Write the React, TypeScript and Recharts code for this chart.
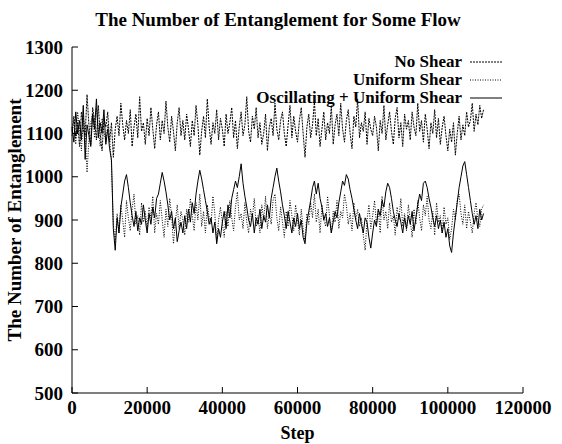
import React from 'react';
import { LineChart, Line, XAxis, YAxis, Legend } from 'recharts';

// sample steps every 500, 0 .. 109500
const steps: number[] = Array.from({ length: 220 }, (_, i) => i * 500);

const noShear = [
  1105, 1140, 1090, 1125, 1070, 1150, 1110, 1095, 1190, 1120, 1075, 1160, 1130, 1085, 1165, 1100, 1060, 1135, 1115, 1150,
  1080, 1125, 1045, 1110, 1140, 1095, 1170, 1120, 1085, 1130, 1100, 1155, 1070, 1115, 1145, 1090, 1185, 1105, 1125, 1075,
  1135, 1095, 1160, 1110, 1065, 1120, 1150, 1085, 1130, 1100, 1175, 1115, 1080, 1140, 1105, 1060, 1125, 1160, 1095, 1130,
  1085, 1145, 1110, 1070, 1130, 1095, 1165, 1120, 1050, 1105, 1140, 1090, 1180, 1115, 1075, 1125, 1100, 1155, 1085, 1135,
  1110, 1070, 1145, 1100, 1125, 1160, 1090, 1130, 1065, 1115, 1150, 1095, 1120, 1185, 1105, 1080, 1140, 1110, 1160, 1090,
  1125, 1075, 1100, 1145, 1060, 1115, 1135, 1095, 1170, 1110, 1085, 1130, 1150, 1100, 1070, 1120, 1165, 1090, 1140, 1105,
  1080, 1130, 1160, 1100, 1045, 1115, 1145, 1090, 1120, 1175, 1095, 1135, 1070, 1110, 1150, 1085, 1125, 1100, 1165, 1075,
  1120, 1145, 1095, 1170, 1110, 1080, 1130, 1155, 1100, 1065, 1140, 1115, 1180, 1090, 1125, 1105, 1150, 1075, 1135, 1110,
  1095, 1140, 1115, 1060, 1130, 1100, 1165, 1085, 1120, 1150, 1105, 1075, 1135, 1160, 1090, 1125, 1070, 1145, 1110, 1130,
  1085, 1150, 1115, 1095, 1170, 1105, 1130, 1080, 1145, 1110, 1065, 1125, 1100, 1155, 1090, 1135, 1075, 1115, 1140, 1095,
  1060, 1110, 1080, 1125, 1050, 1100, 1140, 1085, 1120, 1095, 1150, 1115, 1130, 1170, 1105, 1145, 1120, 1165, 1135, 1155,
];

const uniformShear = [
  1095, 1130, 1075, 1150, 1110, 1060, 1140, 1100, 1010, 1085, 1125, 1145, 1090, 1160, 1115, 1070, 1135, 1105, 1080, 1120,
  1090, 1030, 890, 850, 915, 870, 935, 900, 860, 945, 905, 875, 925, 960, 890, 910, 865, 940, 895, 920,
  880, 930, 905, 955, 870, 915, 890, 945, 900, 860, 925, 885, 950, 910, 845, 895, 935, 880, 920, 900,
  865, 925, 895, 950, 910, 875, 940, 900, 960, 885, 920, 870, 935, 905, 890, 955, 915, 850, 900, 930,
  895, 860, 920, 885, 945, 905, 875, 930, 965, 900, 915, 880, 940, 895, 870, 925, 905, 950, 885, 910,
  870, 935, 900, 955, 880, 915, 890, 945, 960, 905, 875, 930, 895, 860, 920, 885, 945, 910, 875, 935,
  900, 865, 925, 880, 850, 915, 890, 940, 905, 960, 895, 925, 870, 935, 900, 885, 955, 910, 870, 920,
  895, 945, 880, 920, 905, 960, 935, 890, 915, 875, 940, 900, 925, 885, 905, 865, 830, 900, 935, 880,
  910, 945, 890, 925, 870, 955, 900, 920, 880, 940, 895, 910, 865, 930, 900, 950, 885, 915, 875, 935,
  900, 860, 925, 890, 945, 905, 875, 935, 910, 955, 900, 880, 920, 865, 940, 895, 910, 870, 930, 890,
  905, 855, 880, 925, 900, 945, 960, 915, 890, 935, 880, 920, 895, 870, 915, 940, 900, 885, 925, 935,
];

const oscillating = [
  1115, 1080, 1150, 1100, 1130, 1085, 1165, 1040, 1120, 1095, 1070, 1145, 1110, 1180, 1090, 1125, 1100, 1155, 1075, 1110,
  1065, 1040, 880, 830, 905, 870, 930, 960, 990, 1005, 975, 940, 910, 885, 920, 875, 905, 890, 935, 900,
  870, 915, 890, 930, 905, 950, 960, 985, 1010, 990, 965, 935, 900, 920, 880, 905, 850, 875, 895, 870,
  910, 880, 925, 895, 940, 915, 960, 990, 1015, 995, 970, 945, 920, 890, 905, 870, 895, 845, 880, 860,
  895, 920, 880, 935, 905, 950, 970, 990, 975, 1000, 1030, 985, 955, 930, 900, 885, 915, 870, 905, 890,
  925, 880, 910, 895, 935, 905, 950, 975, 1000, 1020, 990, 965, 935, 910, 880, 920, 895, 870, 905, 885,
  915, 880, 900, 860, 845, 895, 920, 945, 975, 990, 960, 985, 950, 930, 900, 915, 885, 905, 870, 895,
  920, 905, 940, 965, 990, 980, 1005, 995, 970, 950, 925, 900, 880, 915, 890, 870, 905, 895, 860, 835,
  870, 900, 885, 925, 910, 945, 930, 965, 985, 975, 950, 920, 900, 885, 915, 895, 870, 905, 880, 910,
  890, 920, 875, 905, 935, 960, 945, 985, 990, 975, 950, 930, 905, 885, 910, 880, 900, 870, 895, 860,
  880, 840, 825, 870, 905, 940, 975, 1000, 1025, 1035, 1005, 975, 945, 915, 890, 910, 880, 925, 900, 915,
];

const xTicks = [0, 20000, 40000, 60000, 80000, 100000, 120000];
const yTicks = [500, 600, 700, 800, 900, 1000, 1100, 1200, 1300];

const data = steps.map((s, i) => ({
  step: s,
  none: noShear[i],
  uniform: uniformShear[i],
  osc: oscillating[i],
}));

const FONT = '"Liberation Serif", "DejaVu Serif", serif';
const tickStyle = { fontFamily: FONT, fontSize: 19, fontWeight: 700, fill: '#000' };

const legendRows = [
  { label: 'No Shear', dash: '2 1' },
  { label: 'Uniform Shear', dash: '1 1.5' },
  { label: 'Oscillating + Uniform Shear', dash: undefined },
];

const LegendBox = () => (
  <div style={{ width: 320, fontFamily: FONT, fontWeight: 700, fontSize: 17 }}>
    {legendRows.map((r) => (
      <div key={r.label} style={{ display: 'flex', justifyContent: 'flex-end', alignItems: 'center', height: 18, lineHeight: '18px' }}>
        <span style={{ color: '#000' }}>{r.label}</span>
        <svg width={38} height={18} style={{ marginLeft: 6 }}>
          <line x1={2} y1={9} x2={34} y2={9} stroke="#000" strokeWidth={1} strokeDasharray={r.dash} />
        </svg>
      </div>
    ))}
  </div>
);

export default function App() {
  return (
    <div style={{ position: 'absolute', left: 0, top: 0, width: 562, height: 444, background: '#fff' }}>
      <div
        style={{
          position: 'absolute', left: 0, top: 9, width: 556, textAlign: 'center',
          fontFamily: FONT, fontWeight: 700, fontSize: 19, color: '#000', lineHeight: '22px',
        }}
      >
        The Number of Entanglement for Some Flow
      </div>
      <LineChart width={562} height={444} data={data} margin={{ top: 47, right: 39, left: 0, bottom: 0 }}>
        <XAxis
          dataKey="step"
          type="number"
          domain={[0, 120000]}
          ticks={xTicks}
          height={51}
          tickSize={-6}
          tickMargin={14}
          tick={tickStyle}
          stroke="#000"
          label={{ value: 'Step', position: 'insideBottom', offset: 5, fill: '#000', style: { ...tickStyle, fontSize: 18 } }}
        />
        <XAxis
          xAxisId="top"
          orientation="top"
          dataKey="step"
          type="number"
          domain={[0, 120000]}
          ticks={xTicks}
          height={0}
          tickSize={-6}
          tickFormatter={() => ''}
          stroke="#000"
        />
        <YAxis
          type="number"
          domain={[500, 1300]}
          ticks={yTicks}
          width={72}
          tickSize={-6}
          tickMargin={15}
          tick={tickStyle}
          stroke="#000"
          label={{ value: 'The Number of Entanglement', angle: -90, position: 'insideLeft', offset: 14, fill: '#000', stroke: 'none', style: { ...tickStyle, textAnchor: 'middle' } }}
        />
        <YAxis
          yAxisId="right"
          orientation="right"
          type="number"
          domain={[500, 1300]}
          ticks={yTicks}
          width={0}
          tickSize={-6}
          tickFormatter={() => ''}
          stroke="#000"
        />
        <Legend
          layout="vertical"
          align="center"
          verticalAlign="middle"
          wrapperStyle={{ left: 186, top: 53, width: 320 }}
          content={() => <LegendBox />}
        />
        <Line dataKey="none" stroke="#000" strokeWidth={1} strokeDasharray="2 1" dot={false} isAnimationActive={false} />
        <Line dataKey="uniform" stroke="#000" strokeWidth={1} strokeDasharray="1 1.5" dot={false} isAnimationActive={false} />
        <Line dataKey="osc" stroke="#000" strokeWidth={1} dot={false} isAnimationActive={false} />
      </LineChart>
    </div>
  );
}
